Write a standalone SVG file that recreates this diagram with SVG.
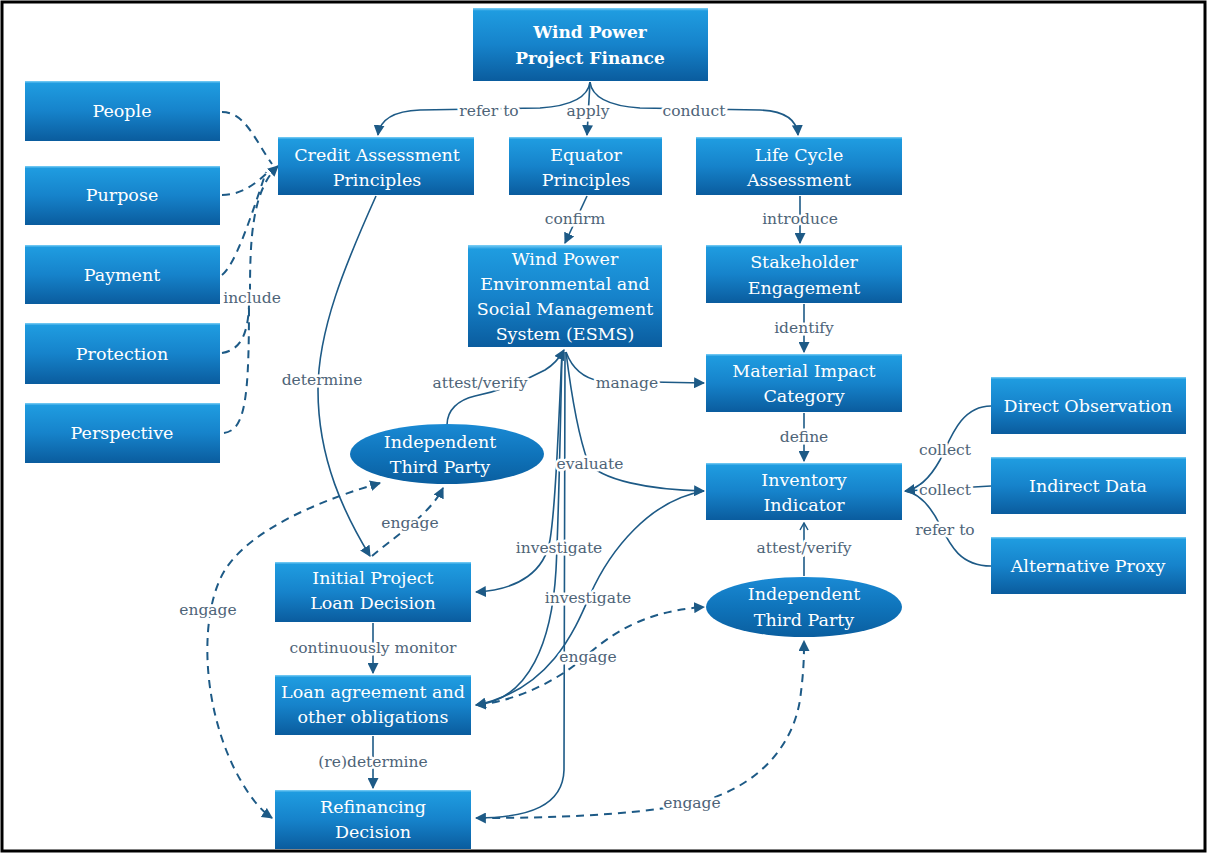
<svg xmlns="http://www.w3.org/2000/svg" width="1207" height="854" viewBox="0 0 1207 854">
<defs>
<linearGradient id="gb" x1="0" y1="0" x2="0" y2="1">
<stop offset="0" stop-color="#7fd0f6"/>
<stop offset="0.04" stop-color="#1f9ce0"/>
<stop offset="0.5" stop-color="#1683cb"/>
<stop offset="1" stop-color="#0a5c9e"/>
</linearGradient>
<linearGradient id="ge" x1="0" y1="0" x2="0" y2="1">
<stop offset="0" stop-color="#1a8ad4"/>
<stop offset="0.5" stop-color="#0f74bb"/>
<stop offset="1" stop-color="#0a5e9f"/>
</linearGradient>
<marker id="ah" viewBox="0 0 10 10" refX="9" refY="5" markerWidth="11" markerHeight="11" markerUnits="userSpaceOnUse" orient="auto-start-reverse">
<path d="M0,0 L10,5 L0,10 z" fill="#1d5a86"/>
</marker>
<marker id="oa" viewBox="0 0 10 10" refX="9" refY="5" markerWidth="10" markerHeight="10" markerUnits="userSpaceOnUse" orient="auto">
<path d="M2,1 L9,5 L2,9" fill="none" stroke="#1d5a86" stroke-width="1.5"/>
</marker>
<style>
.n rect{fill:url(#gb);}
.n ellipse{fill:url(#ge);}
.t{font-family:"DejaVu Serif","Liberation Serif",serif;font-size:17.5px;fill:#ffffff;text-anchor:middle;}
.tb{font-family:"DejaVu Serif","Liberation Serif",serif;font-size:17px;font-weight:bold;fill:#ffffff;text-anchor:middle;}
.c path{fill:none;stroke:#1d5a86;stroke-width:1.6;}
.c path.d{stroke-dasharray:8 6;stroke-width:2;}
.c path.a{marker-end:url(#ah);}
.l{font-family:"DejaVu Serif","Liberation Serif",serif;font-size:15.5px;fill:#4e6478;text-anchor:middle;stroke:#ffffff;stroke-width:5px;paint-order:stroke;stroke-linejoin:round;}
</style>
</defs>
<rect x="2" y="2" width="1203" height="849" fill="#ffffff" stroke="#000000" stroke-width="3"/>

<g id="connectors" class="c">
<path class="a" d="M590,82 C588,98 570,106 540,108 L420,110 C395,111 380,118 378,135"/>
<path class="a" d="M590,82 L587,135"/>
<path class="a" d="M590,82 C592,98 610,106 640,108 L760,110 C785,111 797,120 798,135"/>
<path class="a" d="M587,196 L565,243"/>
<path class="a" d="M800,196 L800,243"/>
<path class="a" d="M804,304 L804,352"/>
<path class="a" d="M804,413 L804,461"/>
<path d="M804,576 L804,523" style="marker-end:url(#oa)"/>
<path class="a" d="M991,406 C960,406 950,440 940,460 C930,478 918,489 905,491"/>
<path d="M991,486 L905,491"/>
<path d="M991,566 C960,566 950,545 940,525 C930,505 918,493 905,491"/>
<path class="a" d="M376,196 C345,265 318,330 318,390 C318,460 345,515 370,556"/>
<path class="a" d="M373,623 L373,673"/>
<path class="a" d="M373,736 L373,788"/>
<path class="d" d="M222,112 C245,112 255,140 272,164"/>
<path class="d" d="M222,195 C240,195 255,185 270,170"/>
<path class="d" d="M222,275 C235,265 250,220 266,172"/>
<path class="d" d="M222,353 C240,350 248,335 249,305"/>
<path class="d" d="M224,433 C245,430 249,400 249,305"/>
<path class="d a" d="M250,292 C250,240 252,190 278,166"/>
<path class="a" d="M447,425 C447,410 458,400 475,396 C505,390 530,378 545,370 C555,364 560,357 564,350"/>
<path class="a" d="M566,352 C572,368 582,378 600,381 L704,383"/>
<path class="a" d="M566,352 C572,400 578,435 588,462 C600,480 650,490 704,491"/>
<path class="a" d="M562,352 C558,440 555,510 550,540 C545,570 520,590 476,592"/>
<path class="a" d="M562,352 C560,450 558,530 556,570 C552,640 530,700 476,705"/>
<path class="a" d="M565,352 L564,770 C563,805 530,818 476,818"/>
<path class="a" d="M704,491 C650,500 610,550 590,595 C575,630 550,690 476,705"/>
<path class="d a" d="M478,705 C520,700 555,680 575,665 C600,645 630,612 704,607"/>
<path class="d a" d="M478,818 C560,818 620,815 680,806 C740,797 790,760 800,700 C804,670 804,655 804,641"/>
<path class="d a" d="M380,483 C320,500 250,530 225,570 C200,610 200,700 235,770 C248,795 260,810 272,818" style="marker-start:url(#ah)"/>
<path class="d a" d="M372,556 C390,540 430,515 443,488"/>
<text class="l" x="489" y="116">refer to</text>
<text class="l" x="588" y="116">apply</text>
<text class="l" x="694" y="116">conduct</text>
<text class="l" x="575" y="224">confirm</text>
<text class="l" x="800" y="224">introduce</text>
<text class="l" x="804" y="333">identify</text>
<text class="l" x="804" y="442">define</text>
<text class="l" x="804" y="553">attest/verify</text>
<text class="l" x="252" y="303">include</text>
<text class="l" x="322" y="385">determine</text>
<text class="l" x="480" y="388">attest/verify</text>
<text class="l" x="627" y="388">manage</text>
<text class="l" x="590" y="469">evaluate</text>
<text class="l" x="410" y="528">engage</text>
<text class="l" x="559" y="553">investigate</text>
<text class="l" x="588" y="603">investigate</text>
<text class="l" x="588" y="662">engage</text>
<text class="l" x="373" y="653">continuously monitor</text>
<text class="l" x="373" y="767">(re)determine</text>
<text class="l" x="208" y="615">engage</text>
<text class="l" x="692" y="808">engage</text>
<text class="l" x="945" y="455">collect</text>
<text class="l" x="945" y="495">collect</text>
<text class="l" x="945" y="535">refer to</text>
</g>

<g id="wppf" class="n"><rect x="473" y="8" width="235" height="73"/><text class="tb" x="590" y="38">Wind Power</text><text class="tb" x="590" y="64">Project Finance</text></g>
<g id="people" class="n"><rect x="25" y="81" width="195" height="60"/><text class="t" x="122" y="117">People</text></g>
<g id="purpose" class="n"><rect x="25" y="166" width="195" height="59"/><text class="t" x="122" y="201">Purpose</text></g>
<g id="payment" class="n"><rect x="25" y="245" width="195" height="59"/><text class="t" x="122" y="281">Payment</text></g>
<g id="protection" class="n"><rect x="25" y="323" width="195" height="61"/><text class="t" x="122" y="360">Protection</text></g>
<g id="perspective" class="n"><rect x="25" y="403" width="195" height="60"/><text class="t" x="122" y="439">Perspective</text></g>
<g id="credit" class="n"><rect x="278" y="137" width="196" height="58"/><text class="t" x="377" y="161">Credit Assessment</text><text class="t" x="377" y="186">Principles</text></g>
<g id="equator" class="n"><rect x="509" y="137" width="153" height="58"/><text class="t" x="586" y="161">Equator</text><text class="t" x="586" y="186">Principles</text></g>
<g id="lca" class="n"><rect x="696" y="137" width="206" height="58"/><text class="t" x="799" y="161">Life Cycle</text><text class="t" x="799" y="186">Assessment</text></g>
<g id="esms" class="n"><rect x="468" y="245" width="194" height="102"/><text class="t" x="565" y="265">Wind Power</text><text class="t" x="565" y="290">Environmental and</text><text class="t" x="565" y="315">Social Management</text><text class="t" x="565" y="340">System (ESMS)</text></g>
<g id="stakeholder" class="n"><rect x="706" y="245" width="196" height="58"/><text class="t" x="804" y="268">Stakeholder</text><text class="t" x="804" y="294">Engagement</text></g>
<g id="material" class="n"><rect x="706" y="354" width="196" height="58"/><text class="t" x="804" y="377">Material Impact</text><text class="t" x="804" y="402">Category</text></g>
<g id="inventory" class="n"><rect x="706" y="463" width="196" height="57"/><text class="t" x="804" y="486">Inventory</text><text class="t" x="804" y="511">Indicator</text></g>
<g id="direct" class="n"><rect x="991" y="377" width="195" height="57"/><text class="t" x="1088" y="412">Direct Observation</text></g>
<g id="indirect" class="n"><rect x="991" y="457" width="195" height="57"/><text class="t" x="1088" y="492">Indirect Data</text></g>
<g id="proxy" class="n"><rect x="991" y="537" width="195" height="57"/><text class="t" x="1088" y="572">Alternative Proxy</text></g>
<g id="itp1" class="n"><ellipse cx="447" cy="454" rx="97" ry="30"/><text class="t" x="440" y="448">Independent</text><text class="t" x="440" y="473">Third Party</text></g>
<g id="itp2" class="n"><ellipse cx="804" cy="607" rx="98" ry="30"/><text class="t" x="804" y="600">Independent</text><text class="t" x="804" y="626">Third Party</text></g>
<g id="initial" class="n"><rect x="275" y="562" width="196" height="60"/><text class="t" x="373" y="584">Initial Project</text><text class="t" x="373" y="609">Loan Decision</text></g>
<g id="loan" class="n"><rect x="275" y="675" width="196" height="60"/><text class="t" x="373" y="698">Loan agreement and</text><text class="t" x="373" y="723">other obligations</text></g>
<g id="refinancing" class="n"><rect x="275" y="790" width="196" height="59"/><text class="t" x="373" y="813">Refinancing</text><text class="t" x="373" y="838">Decision</text></g>
</svg>
